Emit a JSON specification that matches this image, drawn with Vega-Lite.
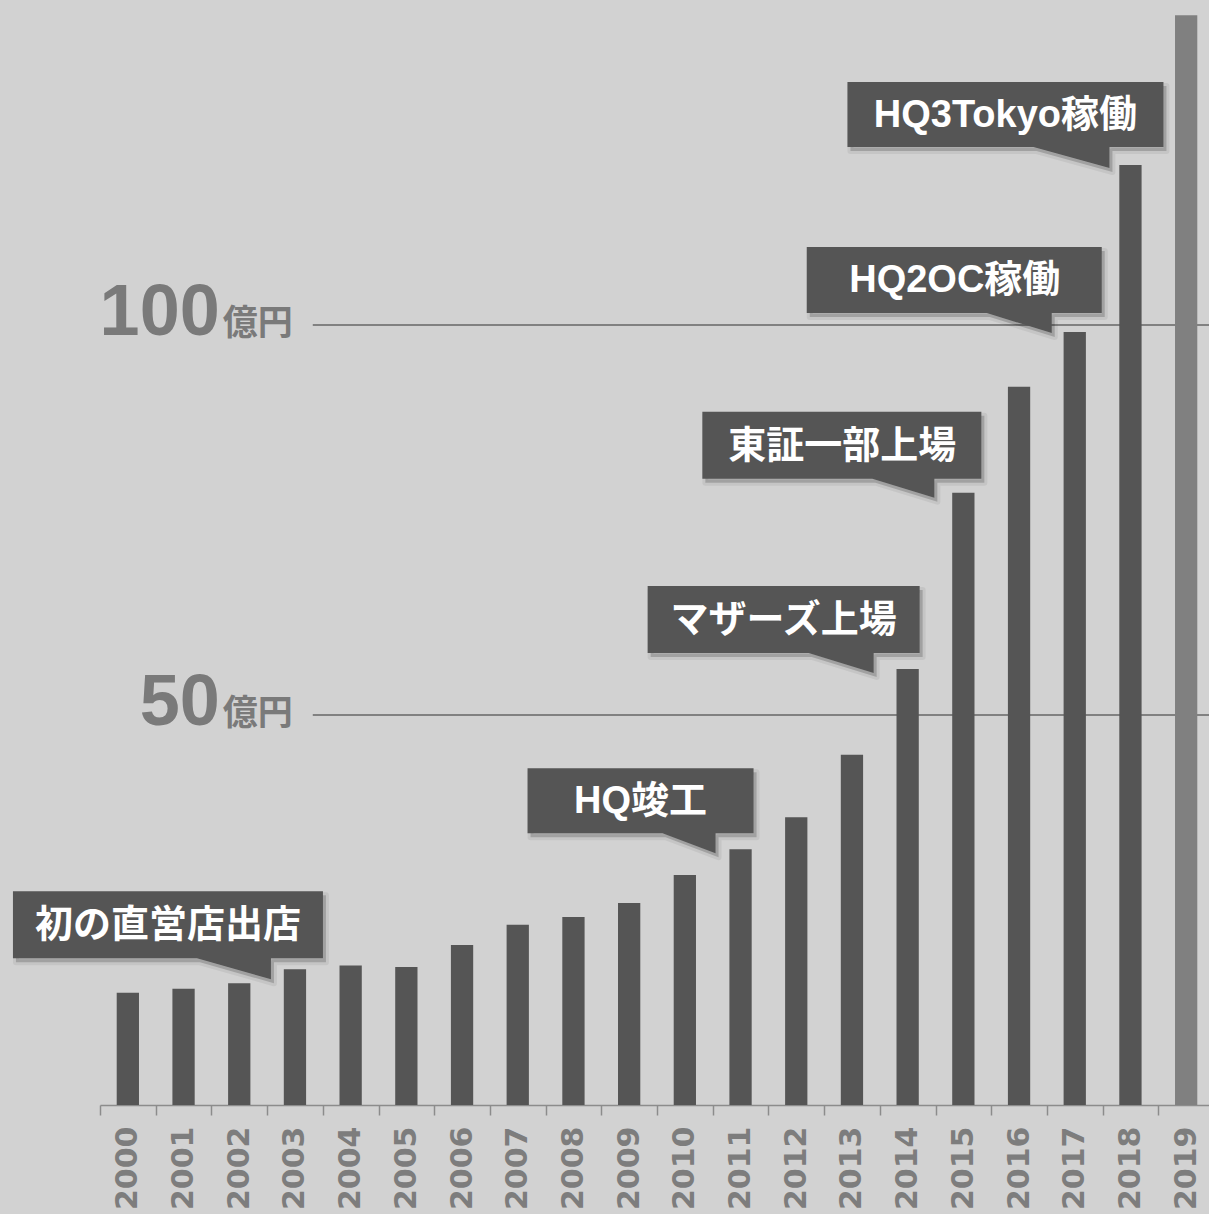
{
"$schema":"https://vega.github.io/schema/vega-lite/v6.json",
"width":1114,"height":1105,
"autosize":{"type":"none"},
"padding":{"left":100,"top":0,"right":0,"bottom":109},
"background":"#d2d2d2",
"config":{"view":{"stroke":null}},
"datasets":{
 "sales":[
  {"year":"2000","value":14.4},
  {"year":"2001","value":14.9},
  {"year":"2002","value":15.6},
  {"year":"2003","value":17.4,"event":"初の直営店出店"},
  {"year":"2004","value":17.9},
  {"year":"2005","value":17.7},
  {"year":"2006","value":20.5},
  {"year":"2007","value":23.1},
  {"year":"2008","value":24.1},
  {"year":"2009","value":25.9},
  {"year":"2010","value":29.5},
  {"year":"2011","value":32.8,"event":"HQ竣工"},
  {"year":"2012","value":36.9},
  {"year":"2013","value":44.9},
  {"year":"2014","value":55.9,"event":"マザーズ上場"},
  {"year":"2015","value":78.5,"event":"東証一部上場"},
  {"year":"2016","value":92.1},
  {"year":"2017","value":99.1,"event":"HQ2OC稼働"},
  {"year":"2018","value":120.5,"event":"HQ3Tokyo稼働"},
  {"year":"2019","value":139.7}
 ],
 "ylab":[{"v":100,"num":"100"},{"v":50,"num":"50"}]
},
"layer":[
 {"data":{"name":"ylab"},
  "layer":[
   {"mark":{"type":"rule","color":"#666666","strokeWidth":1.5},
    "encoding":{
     "x":{"datum":2003.32,"type":"quantitative","scale":{"domain":[1999.5,2019.5],"nice":false,"zero":false},"axis":null},
     "x2":{"datum":2019.5},
     "y":{"field":"v","type":"quantitative","scale":{"domain":[0,141.67],"nice":false,"zero":true},"axis":null}}},
   {"mark":{"type":"text","align":"right","baseline":"alphabetic","dx":0,"dy":10,"font":"Liberation Sans","fontWeight":"bold","fontSize":72,"fill":"#7a7a7a"},
    "encoding":{
     "x":{"datum":2001.65,"type":"quantitative","axis":null},
     "y":{"field":"v","type":"quantitative","axis":null},
     "text":{"field":"num"}}},
   {"mark":{"type":"text","align":"left","baseline":"alphabetic","dx":3,"dy":10,"font":"Noto Sans CJK JP","fontWeight":"bold","fontSize":35,"fill":"#7a7a7a"},
    "encoding":{
     "x":{"datum":2001.65,"type":"quantitative","axis":null},
     "y":{"field":"v","type":"quantitative","axis":null},
     "text":{"value":"億円"}}}
  ]},
 {"data":{"name":"sales"},
  "layer":[
   {"mark":{"type":"bar","width":{"band":0.4}},
    "encoding":{
     "x":{"field":"year","type":"ordinal","title":null,
          "scale":{"paddingInner":0,"paddingOuter":0},
          "axis":{"labelAngle":270,"labelFont":"DejaVu Sans","labelFontWeight":"bold","labelFontSize":30,"labelColor":"#7d7d7d","labelPadding":11,"labelOverlap":false,"tickBand":"extent","tickSize":10,"tickColor":"#8c8c8c","tickWidth":1.5,"domainColor":"#8c8c8c","domainWidth":1.5,"grid":false}},
     "y":{"field":"value","type":"quantitative","scale":{"domain":[0,141.67],"nice":false,"zero":true},"axis":null},
     "color":{"condition":{"test":"datum.year === '2019'","value":"#808080"},"value":"#555555"}}},
   {"transform":[{"filter":"isValid(datum.event)"}],
    "mark":{"type":"point","filled":true,"color":"#000000","fillOpacity":0.18,"stroke":"#000000","strokeWidth":6,"strokeOpacity":0.06,"strokeJoin":"round"},
    "encoding":{
     "x":{"field":"year","type":"ordinal"},
     "y":{"field":"value","type":"quantitative","axis":null},
     "size":{"value":4},
     "shape":{"field":"event","type":"nominal","legend":null,
       "scale":{"domain":["初の直営店出店","HQ竣工","マザーズ上場","東証一部上場","HQ2OC稼働","HQ3Tokyo稼働"],
                "range":["M-279,-74H31V-7H-21V14L-95,-7H-279Z","M-210,-77H16V-12H-22V8L-75,-12H-210Z","M-257,-79H15V-12H-31V8L-96,-12H-257Z","M-258,-77H21V-10H-26V9L-88,-10H-258Z","M-265,-81H30V-15H-20V5L-85,-15H-265Z","M-280,-79H36V-14H-18V7L-94,-14H-280Z"]}}}},
   {"transform":[{"filter":"isValid(datum.event)"}],
    "mark":{"type":"point","filled":true,"color":"#555555","opacity":1,"strokeWidth":0},
    "encoding":{
     "x":{"field":"year","type":"ordinal"},
     "y":{"field":"value","type":"quantitative","axis":null},
     "size":{"value":4},
     "shape":{"field":"event","type":"nominal","legend":null,
       "scale":{"domain":["初の直営店出店","HQ竣工","マザーズ上場","東証一部上場","HQ2OC稼働","HQ3Tokyo稼働"],
                "range":["M-282,-78H28V-11H-24V10L-98,-11H-282Z","M-213,-81H13V-16H-25V4L-78,-16H-213Z","M-260,-83H12V-16H-34V4L-99,-16H-260Z","M-261,-81H18V-14H-29V5L-91,-14H-261Z","M-268,-85H27V-19H-23V1L-88,-19H-268Z","M-283,-83H33V-18H-21V3L-97,-18H-283Z"]}}}},
   {"transform":[{"filter":"datum.event === '初の直営店出店'"}],
    "mark":{"type":"text","align":"center","baseline":"middle","dx":-127,"dy":-43,"font":"Liberation Sans, Noto Sans CJK JP","fontWeight":"bold","fontSize":38,"fill":"#ffffff"},
    "encoding":{"x":{"field":"year","type":"ordinal"},"y":{"field":"value","type":"quantitative","axis":null},"text":{"field":"event"}}},
   {"transform":[{"filter":"datum.event === 'HQ竣工'"}],
    "mark":{"type":"text","align":"center","baseline":"middle","dx":-100,"dy":-47,"font":"Liberation Sans, Noto Sans CJK JP","fontWeight":"bold","fontSize":38,"fill":"#ffffff"},
    "encoding":{"x":{"field":"year","type":"ordinal"},"y":{"field":"value","type":"quantitative","axis":null},"text":{"field":"event"}}},
   {"transform":[{"filter":"datum.event === 'マザーズ上場'"}],
    "mark":{"type":"text","align":"center","baseline":"middle","dx":-124,"dy":-48,"font":"Liberation Sans, Noto Sans CJK JP","fontWeight":"bold","fontSize":38,"fill":"#ffffff"},
    "encoding":{"x":{"field":"year","type":"ordinal"},"y":{"field":"value","type":"quantitative","axis":null},"text":{"field":"event"}}},
   {"transform":[{"filter":"datum.event === '東証一部上場'"}],
    "mark":{"type":"text","align":"center","baseline":"middle","dx":-121,"dy":-46,"font":"Liberation Sans, Noto Sans CJK JP","fontWeight":"bold","fontSize":38,"fill":"#ffffff"},
    "encoding":{"x":{"field":"year","type":"ordinal"},"y":{"field":"value","type":"quantitative","axis":null},"text":{"field":"event"}}},
   {"transform":[{"filter":"datum.event === 'HQ2OC稼働'"}],
    "mark":{"type":"text","align":"center","baseline":"middle","dx":-120,"dy":-51,"font":"Liberation Sans, Noto Sans CJK JP","fontWeight":"bold","fontSize":38,"fill":"#ffffff"},
    "encoding":{"x":{"field":"year","type":"ordinal"},"y":{"field":"value","type":"quantitative","axis":null},"text":{"field":"event"}}},
   {"transform":[{"filter":"datum.event === 'HQ3Tokyo稼働'"}],
    "mark":{"type":"text","align":"center","baseline":"middle","dx":-125,"dy":-49,"font":"Liberation Sans, Noto Sans CJK JP","fontWeight":"bold","fontSize":38,"fill":"#ffffff"},
    "encoding":{"x":{"field":"year","type":"ordinal"},"y":{"field":"value","type":"quantitative","axis":null},"text":{"field":"event"}}}
  ],
  "resolve":{"scale":{"shape":"independent"}}
 }
],
"resolve":{"scale":{"x":"independent"}}
}
